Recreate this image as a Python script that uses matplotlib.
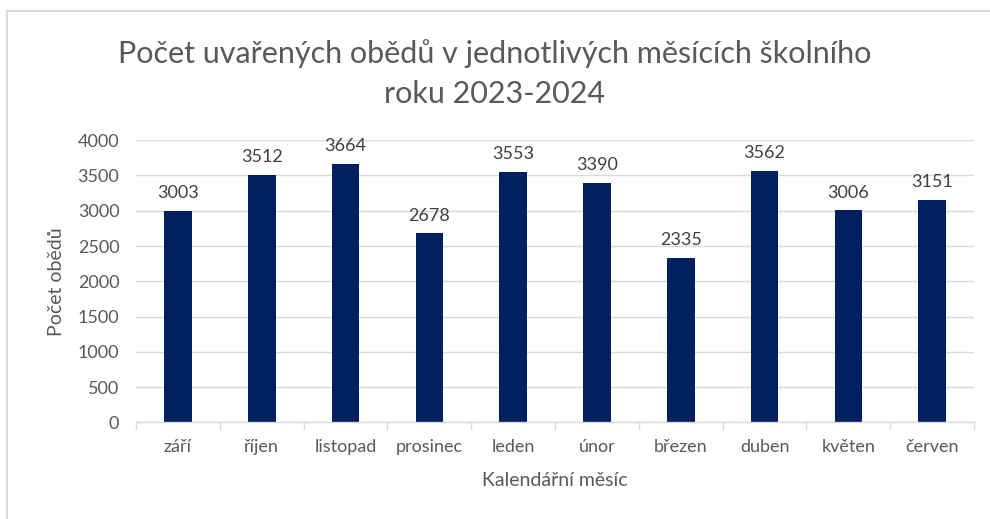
import matplotlib
matplotlib.use("Agg")
import matplotlib.pyplot as plt
from matplotlib.lines import Line2D
from matplotlib.transforms import blended_transform_factory

months = ["září", "říjen", "listopad", "prosinec", "leden", "únor", "březen", "duben", "květen", "červen"]
meals = [3003, 3512, 3664, 2678, 3553, 3390, 2335, 3562, 3006, 3151]
yticks = [0, 500, 1000, 1500, 2000, 2500, 3000, 3500, 4000]

plt.rcParams['font.family'] = ['Lato', 'DejaVu Sans']
txt = '#595959'
fig = plt.figure(figsize=(9.9, 5.19), dpi=100)
ax = fig.add_axes([0.1374, 0.186, 0.8465, 0.544])

x = list(range(len(months)))
ax.bar(x, meals, width=0.33, color='#002060', zorder=3)
for xi, v in zip(x, meals):
    ax.annotate(str(v), (xi, v), xytext=(0, 7), textcoords='offset points',
                ha='center', va='bottom', fontsize=13, color='#404040')

ax.set_xlim(-0.5, len(months) - 0.5)
ax.set_ylim(0, 4000)
ax.set_yticks(yticks)
ax.set_yticklabels([str(t) for t in yticks])
ax.set_xticks(x)
ax.set_xticklabels(months)
ax.tick_params(axis='y', length=0, labelsize=13, labelcolor=txt, pad=12)
ax.tick_params(axis='x', length=0, labelsize=13, labelcolor=txt, pad=12)
ax.grid(axis='y', color='#D9D9D9', linewidth=1, zorder=0)
for s in ['top', 'right', 'left']:
    ax.spines[s].set_visible(False)
ax.spines['bottom'].set_color('#D9D9D9')
ax.spines['bottom'].set_linewidth(1)
ax.spines['bottom'].set_zorder(4)
tr = blended_transform_factory(ax.transData, ax.transAxes)
for b in [i - 0.5 for i in range(len(months) + 1)]:
    ax.add_line(Line2D([b, b], [0, -0.022], transform=tr, clip_on=False, color='#D9D9D9', lw=1))

ax.set_ylabel("Počet obědů", fontsize=14, color=txt, labelpad=9)
ax.set_xlabel("Kalendářní měsíc", fontsize=14, color=txt, labelpad=12)

fig.text(0.5, 0.858, "Počet uvařených obědů v jednotlivých měsících školního\nroku 2023-2024",
         ha='center', va='center', fontsize=22, color=txt, linespacing=1.5)

# frame lines (top and left)
fig.add_artist(Line2D([0.007, 1.0], [0.979, 0.979], transform=fig.transFigure, color='#D9D9D9', lw=1.5))
fig.add_artist(Line2D([0.0075, 0.0075], [0.0, 0.979], transform=fig.transFigure, color='#D9D9D9', lw=1.5))

fig.savefig("out.png", dpi=100, facecolor='white')
